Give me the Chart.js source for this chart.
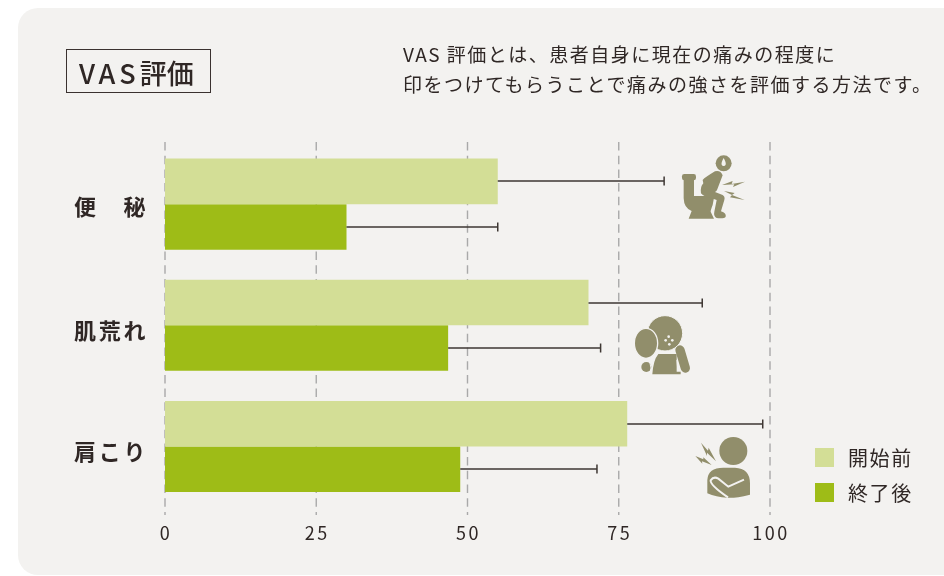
<!DOCTYPE html>
<html lang="ja"><head><meta charset="utf-8">
<style>
html,body{margin:0;padding:0;background:#fff;width:944px;height:576px;overflow:hidden}
body{position:relative;font-family:"Noto Sans CJK JP","Noto Sans",sans-serif;color:#2f2725}
#panel{position:absolute;left:18px;top:8px;width:960px;height:567px;background:#f3f2f0;border-radius:20px}
#chartBox{position:absolute;left:0;top:0;width:944px;height:576px}
#title{position:absolute;left:66px;top:49px;width:143px;height:42px;border:1px solid #3a3230;font-size:27px;line-height:45px;font-weight:500;white-space:nowrap;text-indent:12px}
#title span{letter-spacing:4px}
#desc{position:absolute;left:403px;top:39px;font-size:19px;line-height:29.5px;letter-spacing:1.5px;white-space:nowrap;font-weight:400}
.lg{position:absolute;left:815px;width:19px;height:19px}
.lt{position:absolute;left:848px;font-size:20px;line-height:24px;letter-spacing:1.6px;white-space:nowrap}
svg{position:absolute;left:0;top:0}
</style>
<script src="https://cdn.jsdelivr.net/npm/chart.js@4"></script>
</head><body>
<div id="panel"></div>
<div id="chartBox"><canvas id="c" width="944" height="576"></canvas></div>
<div id="title"><span>VAS</span>評価</div>
<div id="desc">VAS 評価とは、患者自身に現在の痛みの程度に<br>印をつけてもらうことで痛みの強さを評価する方法です。</div>
<div class="lg" style="top:448px;background:#d3de96"></div><div class="lt" style="top:446px">開始前</div>
<div class="lg" style="top:483px;background:#9ebc17"></div><div class="lt" style="top:481px">終了後</div>
<svg width="944" height="576" viewBox="0 0 944 576" fill="#918e6b">
 <g transform="translate(620 130) scale(.3333)">
  <circle cx="311" cy="100" r="24"/><path d="M311 84q-8 14-6 20a6.500 6.500 0 0 0 12 0q2-6-6-20z" fill="#f3f2f0"/>
  <rect x="186" y="132" width="42" height="19" rx="7"/>
  <path d="M191 150H222V198H283L278 225Q272 240 272 245L282 266H206L215 243Q192 235 191 205Z"/>
  <path d="M243 190Q240 170 250 160L248 150Q255 142 285 124Q302 120 308 136L292 178Q290 184 285 186L308 195Q316 200 313 210L303 244Q320 250 317 260Q314 266 290 264Q280 258 283 245L290 210L275 205Q250 200 243 190Z"/>
  <path d="M306 165l32-12l-3 9l40-7l-36 16l4-8z"/><path d="M312 183l32 6l-8 6l38 15l-44-8l6-7z"/>
 </g>
 <g transform="translate(620 130) scale(.3333)">
  <path d="M97 733Q100 690 115 672H170V725H182V733Z"/>
  <path d="M180 660L196 714" fill="none" stroke="#918e6b" stroke-width="28" stroke-linecap="round"/>
  <path d="M170 690L174 722" fill="none" stroke="#f3f2f0" stroke-width="2"/>
  <circle cx="135" cy="610" r="53" stroke="#f3f2f0" stroke-width="3"/>
  <ellipse cx="78" cy="640" rx="35" ry="45" stroke="#f3f2f0" stroke-width="4"/>
  <circle cx="79" cy="711" r="15"/><path d="M82 684l8 16q6 14 0 28" fill="none" stroke="#f3f2f0" stroke-width="3"/>
  <g fill="#f3f2f0"><circle cx="146" cy="620" r="4"/><circle cx="137" cy="631" r="4"/><circle cx="157" cy="631" r="4"/><circle cx="148" cy="643" r="4"/></g>
 </g>
 <g transform="translate(620 400) scale(.3333)">
  <circle cx="340" cy="153" r="42"/>
  <path d="M262 240q2-37 48-37h35q45 2 45 47v34q-50 12-68 9q-34-1-60-13z"/>
  <path d="M372 239l-47 21l-30-24q-14-8-23 5q-2 14 52 51" fill="none" stroke="#f3f2f0" stroke-width="6"/>
  <path d="M243 128l21 24l2-9l22 41l-27-26l0 10z"/><path d="M226 168l24 10l0-6l25 23l-29-11l1 7z"/>
 </g>
</svg>
<script>
const categories = ["便　秘", "肌荒れ", "肩こり"];
const beforeValues = [55, 70, 76.4];
const afterValues = [30, 46.8, 48.8];
const beforeHigh = [82.5, 88.8, 98.8];
const afterHigh = [55, 72, 71.4];
const xTicks = [0, 25, 50, 75, 100];
const fontFamily = '"Noto Sans CJK JP","Noto Sans",sans-serif';
const inkColor = "#2f2725";
const labelNudges = [2, 5, 5.5];

const dashedGrid = {
  id: "dashedGrid",
  beforeDatasetsDraw(chart) {
    const { ctx, scales: { x } } = chart;
    ctx.save();
    ctx.strokeStyle = "#a9a9a9";
    ctx.lineWidth = 1.4;
    ctx.setLineDash([8.5, 5.2]);
    xTicks.forEach(t => {
      const px = x.getPixelForValue(t);
      ctx.beginPath();
      ctx.moveTo(px, 142);
      ctx.lineTo(px, 515);
      ctx.stroke();
    });
    ctx.restore();
  }
};
const errorBars = {
  id: "errorBars",
  afterDatasetsDraw(chart) {
    const { ctx, scales: { x } } = chart;
    const highs = [beforeHigh, afterHigh];
    ctx.save();
    ctx.strokeStyle = "#3e3733";
    ctx.lineWidth = 1.5;
    highs.forEach((arr, ds) => {
      const meta = chart.getDatasetMeta(ds);
      arr.forEach((v, i) => {
        const bar = meta.data[i];
        const xe = x.getPixelForValue(v);
        const y = Math.round(bar.y);
        ctx.beginPath();
        ctx.moveTo(bar.x, y); ctx.lineTo(xe, y);
        ctx.moveTo(xe, y - 4.5); ctx.lineTo(xe, y + 4.5);
        ctx.stroke();
      });
    });
    ctx.restore();
  }
};
const categoryLabels = {
  id: "categoryLabels",
  afterDraw(chart) {
    const { ctx, scales: { y } } = chart;
    ctx.save();
    ctx.letterSpacing = "2.7px";
    ctx.font = '700 22px ' + fontFamily;
    ctx.fillStyle = inkColor;
    ctx.textAlign = "left";
    ctx.textBaseline = "middle";
    categories.forEach((c, i) => ctx.fillText(c, 74, y.getPixelForValue(i) + labelNudges[i]));
    ctx.restore();
  }
};
const spacing = {
  id: "spacing",
  beforeDraw(chart) { chart.ctx.letterSpacing = "2.5px"; }
};

new Chart(document.getElementById("c"), {
  type: "bar",
  data: {
    labels: categories,
    datasets: [
      { label: "開始前", data: beforeValues, backgroundColor: "#d3de96" },
      { label: "終了後", data: afterValues, backgroundColor: "#9ebc17" }
    ]
  },
  plugins: [dashedGrid, errorBars, categoryLabels, spacing],
  options: {
    indexAxis: "y",
    responsive: false,
    animation: false,
    layout: { padding: { top: 143.6, right: 174, left: 0, bottom: 0 } },
    datasets: { bar: { categoryPercentage: 0.752, barPercentage: 1 } },
    plugins: { legend: { display: false }, tooltip: { enabled: false } },
    scales: {
      x: {
        min: 0, max: 100,
        afterFit(s) { s.height = 69; },
        afterBuildTicks(s) { s.ticks = xTicks.map(v => ({ value: v })); },
        grid: { display: false, drawTicks: false },
        border: { display: false },
        ticks: { padding: 15, labelOffset: 1, color: inkColor, maxRotation: 0, font: { family: fontFamily, size: 18 } }
      },
      y: {
        afterFit(s) { s.width = 165; },
        grid: { display: false, drawTicks: false },
        border: { display: false },
        ticks: { display: false }
      }
    }
  }
});
</script>
</body></html>
